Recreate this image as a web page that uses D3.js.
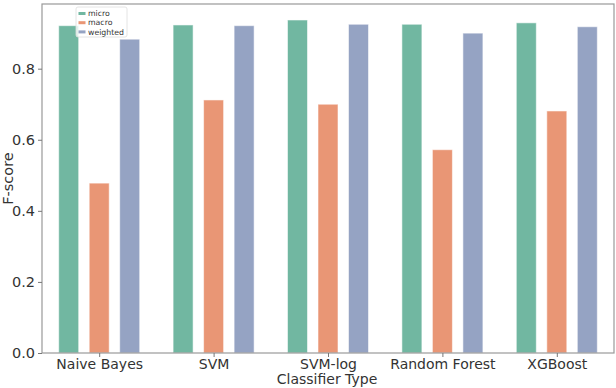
<!DOCTYPE html>
<html><head><meta charset="utf-8">
<script src="https://cdn.jsdelivr.net/npm/d3@7"></script>
<style>body{margin:0;background:#fff}svg{display:block;font-family:"DejaVu Sans",sans-serif}</style>
</head><body>
<script>
const categories = ["Naive Bayes","SVM","SVM-log","Random Forest","XGBoost"];
const seriesNames = ["micro","macro","weighted"];
const micro = [0.921,0.923,0.937,0.925,0.929];
const macro = [0.478,0.712,0.700,0.572,0.681];
const weighted = [0.883,0.921,0.925,0.900,0.918];
const yTicks = [0.0,0.2,0.4,0.6,0.8];
const colors = ["#71b7a1","#e99675","#95a3c3"];

(function(){
const W=616,H=388;
const svg=d3.select("body").append("svg").attr("width",W).attr("height",H);
const mL=42,mR=614,mT=4,mB=353;
const x=d3.scaleLinear().domain([-0.5,4.5]).range([mL,mR]);
const y=d3.scaleLinear().domain([0,0.982]).range([mB,mT]);
const slot=(x(1)-x(0))*0.8/3;
const barW=20;
const series=[micro,macro,weighted];

series.forEach((vals,si)=>{
  svg.append("g").selectAll("rect").data(vals).join("rect")
    .attr("x",(d,i)=>x(i)+(si-1)*slot-barW/2)
    .attr("y",d=>y(d))
    .attr("width",barW)
    .attr("height",d=>y(0)-y(d))
    .attr("fill",colors[si])
    .attr("stroke","rgba(255,255,255,0.55)")
    .attr("stroke-width",1);
});

svg.append("rect").attr("x",mL).attr("y",mT).attr("width",mR-mL).attr("height",mB-mT)
  .attr("fill","none").attr("stroke","#999").attr("stroke-width",1.2);

const ya=svg.append("g").attr("transform",`translate(${mL},0)`)
  .call(d3.axisLeft(y).tickValues(yTicks).tickFormat(d3.format(".1f")).tickSize(4).tickPadding(3));
ya.select(".domain").remove();
ya.selectAll("line").attr("stroke","#777");
ya.selectAll("text").attr("fill","#333").style("font-size","14.5px").style("font-family","DejaVu Sans");

const xa=svg.append("g").attr("transform",`translate(0,${mB})`)
  .call(d3.axisBottom(x).tickValues(d3.range(categories.length)).tickFormat(i=>categories[i]).tickSize(4).tickPadding(2));
xa.select(".domain").remove();
xa.selectAll("line").attr("stroke","#777");
xa.selectAll("text").attr("fill","#333").style("font-size","14px").style("font-family","DejaVu Sans");

svg.append("text").attr("x",(mL+mR)/2-1).attr("y",384).attr("text-anchor","middle")
  .attr("fill","#333").style("font-size","14px").text("Classifier Type");
svg.append("text").attr("transform",`translate(13,${(mT+mB)/2}) rotate(-90)`).attr("text-anchor","middle")
  .attr("fill","#333").style("font-size","14.5px").text("F-score");

const lg=svg.append("g");
lg.append("rect").attr("x",76).attr("y",7).attr("width",51).attr("height",30).attr("rx",2)
  .attr("fill","rgba(255,255,255,0.8)").attr("stroke","#ddd").attr("stroke-width",0.8);
seriesNames.forEach((n,i)=>{
  const yy=13.5+i*9.2;
  lg.append("rect").attr("x",78.5).attr("y",yy-1.5).attr("width",7).attr("height",3).attr("fill",colors[i]);
  lg.append("text").attr("x",88).attr("y",yy+2.7).attr("fill","#333").style("font-size","7.8px").text(n);
});
})();
</script>
</body></html>
